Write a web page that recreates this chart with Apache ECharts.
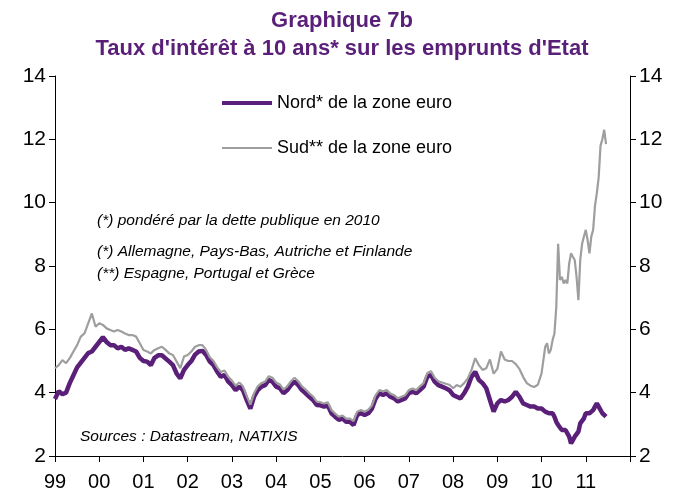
<!DOCTYPE html>
<html lang="fr">
<head>
    <meta charset="utf-8">
    <title>Graphique 7b</title>
    <script src="https://cdn.jsdelivr.net/npm/echarts@6/dist/echarts.min.js"></script>
    <style type="text/css">
        html, body { margin: 0; padding: 0; background: #fff; }
        #chart { width: 684px; height: 497px; }
    </style>
</head>
<body>
    <div id="chart"></div>
    <script>
        // monthly values, Jan 1999 .. Dec 2009
        var nordMonthly = [
            3.8, 4.05, 3.95, 4.0, 4.3, 4.55, 4.8, 4.95, 5.1, 5.25, 5.3, 5.45,      // 1999
            5.6, 5.75, 5.6, 5.5, 5.5, 5.4, 5.45, 5.35, 5.4, 5.35, 5.3, 5.1,       // 2000
            5.0, 4.98, 4.87, 5.1, 5.18, 5.18, 5.08, 4.98, 4.87, 4.6, 4.45, 4.72,  // 2001
            4.87, 5.0, 5.2, 5.3, 5.32, 5.19, 4.98, 4.87, 4.66, 4.5, 4.56, 4.35,   // 2002
            4.24, 4.08, 4.19, 4.08, 3.77, 3.5, 3.87, 4.08, 4.19, 4.24, 4.4, 4.35, // 2003
            4.19, 4.14, 3.98, 4.08, 4.24, 4.35, 4.24, 4.08, 3.98, 3.87, 3.77, 3.61, // 2004
            3.6, 3.56, 3.6, 3.35, 3.24, 3.14, 3.19, 3.08, 3.08, 2.98, 3.3, 3.35,  // 2005
            3.3, 3.35, 3.5, 3.82, 3.98, 3.93, 3.98, 3.87, 3.82, 3.72, 3.77, 3.82, // 2006
            3.98, 4.03, 3.98, 4.08, 4.19, 4.5, 4.56, 4.35, 4.24, 4.19, 4.14, 4.08, // 2007
            3.93, 3.87, 3.82, 3.98, 4.19, 4.5, 4.66, 4.4, 4.3, 4.14, 3.77, 3.4,   // 2008
            3.66, 3.77, 3.72, 3.77, 3.87, 4.03, 3.87, 3.66, 3.61, 3.56, 3.56, 3.5  // 2009
        ];
        var sudMonthly = [
            4.77, 4.87, 5.03, 4.93, 5.09, 5.3, 5.5, 5.77, 5.87, 6.19, 6.5, 6.08,  // 1999
            6.19, 6.14, 6.03, 5.98, 5.93, 5.98, 5.93, 5.87, 5.82, 5.82, 5.77, 5.56, // 2000
            5.35, 5.3, 5.24, 5.35, 5.4, 5.45, 5.35, 5.24, 5.19, 4.98, 4.77, 5.14, // 2001
            5.19, 5.3, 5.45, 5.5, 5.5, 5.35, 5.12, 5.0, 4.8, 4.65, 4.7, 4.5,      // 2002
            4.38, 4.22, 4.32, 4.2, 3.9, 3.62, 3.98, 4.2, 4.3, 4.35, 4.52, 4.47,   // 2003
            4.32, 4.26, 4.1, 4.2, 4.36, 4.47, 4.36, 4.2, 4.1, 3.98, 3.88, 3.72,   // 2004
            3.7, 3.66, 3.7, 3.45, 3.34, 3.24, 3.28, 3.18, 3.18, 3.1, 3.4, 3.45,   // 2005
            3.4, 3.46, 3.6, 3.92, 4.08, 4.04, 4.08, 3.97, 3.92, 3.82, 3.87, 3.92, // 2006
            4.08, 4.13, 4.08, 4.2, 4.3, 4.62, 4.68, 4.47, 4.36, 4.32, 4.28, 4.25, // 2007
            4.14, 4.24, 4.19, 4.3, 4.45, 4.72, 5.09, 4.87, 4.72, 4.77, 5.05, 4.6, // 2008
            4.75, 5.3, 5.05, 5.0, 5.0, 4.9, 4.75, 4.5, 4.3, 4.22, 4.18, 4.25      // 2009
        ];
        // twice a month, Jan 2010 .. mid-June 2011
        var nordLate = [
            3.5, 3.45, 3.4, 3.45, 3.35, 3.4, 3.35, 3.24, 3.08, 2.98, 2.93, 2.82,
            2.87, 2.82, 2.77, 2.61, 2.4, 2.5, 2.61, 2.66, 2.77, 3.03, 3.08, 3.19,
            3.35, 3.29, 3.35, 3.4, 3.45, 3.56, 3.66, 3.56, 3.5, 3.35, 3.29, 3.24
        ];
        var sudLate = [
            4.61, 5.03, 5.45, 5.56, 5.24, 5.35, 5.66, 5.87, 6.71, 8.7, 7.56, 7.66,
            7.45, 7.56, 7.45, 8.08, 8.4, 8.29, 8.19, 7.66, 6.92, 8.19, 8.7, 8.93,
            9.14, 8.82, 8.4, 8.93, 9.14, 9.9, 10.3, 10.8, 11.8, 12.0, 12.3, 11.85
        ];
        var yTicks = [2, 4, 6, 8, 10, 12, 14];
        var yearLabels = ['99', '00', '01', '02', '03', '04', '05', '06', '07', '08', '09', '10', '11'];
        var nordName = 'Nord* de la zone euro';
        var sudName = 'Sud** de la zone euro';

        // pair values with their date as decimal years
        function pairs(monthly, late) {
            var out = [];
            for (var i = 0; i < monthly.length; i++) out.push([1999 + i / 12, monthly[i]]);
            for (var j = 0; j < late.length; j++) out.push([2010 + j / 24, late[j]]);
            return out;
        }

        var purple = '#5a1f78';
        var font = 'Liberation Sans, Arial, sans-serif';
        var noteFont = 'italic 15.5px ' + font;

        var yAxisBase = {
            type: 'value',
            min: yTicks[0],
            max: yTicks[yTicks.length - 1],
            interval: 2,
            axisLine: { show: true, lineStyle: { color: '#000', width: 1 } },
            axisTick: { show: true, length: 6, lineStyle: { color: '#000' } },
            splitLine: { show: false },
            axisLabel: { color: '#000', fontSize: 21, fontFamily: font, margin: 9 }
        };

        var chart = echarts.init(document.getElementById('chart'));
        var option = {
            backgroundColor: '#fff',
            animation: false,
            title: [{
                text: 'Graphique 7b',
                left: 'center',
                top: 5,
                textStyle: { color: purple, fontSize: 22, fontWeight: 'bold', fontFamily: font }
            }, {
                text: "Taux d'intérêt à 10 ans* sur les emprunts d'Etat",
                left: 'center',
                top: 33,
                textStyle: { color: purple, fontSize: 22, fontWeight: 'bold', fontFamily: font }
            }],
            legend: {
                orient: 'vertical',
                left: 222,
                top: 94,
                padding: 0,
                itemWidth: 50,
                itemHeight: 14,
                itemGap: 27,
                textStyle: { color: '#000', fontSize: 18, fontFamily: font },
                data: [
                    { name: nordName, icon: 'path://M0,0L50,0L50,4L0,4Z', itemStyle: { color: purple } },
                    { name: sudName, icon: 'path://M0,0L50,0L50,2L0,2Z', itemStyle: { color: '#9e9e9e' } }
                ]
            },
            grid: { left: 55, right: 54, top: 76, bottom: 41 },
            xAxis: {
                type: 'value',
                min: 1999,
                max: 2012,
                interval: 1,
                axisLine: { show: true, onZero: false, lineStyle: { color: '#000' } },
                axisTick: { show: true, length: 6, lineStyle: { color: '#000' } },
                splitLine: { show: false },
                axisLabel: {
                    color: '#000', fontSize: 20, fontFamily: font, margin: 16,
                    formatter: function (v) {
                        var k = Math.round(v) - 1999;
                        return yearLabels[k] || '';
                    }
                }
            },
            yAxis: [
                Object.assign({}, yAxisBase, { position: 'left' }),
                Object.assign({}, yAxisBase, { position: 'right' })
            ],
            graphic: [
                { type: 'text', left: 97, top: 213, style: { text: '(*) pondéré par la dette publique en 2010', fill: '#000', font: noteFont } },
                { type: 'text', left: 97, top: 244, style: { text: '(*) Allemagne, Pays-Bas, Autriche et Finlande', fill: '#000', font: noteFont } },
                { type: 'text', left: 97, top: 266, style: { text: '(**) Espagne, Portugal et Grèce', fill: '#000', font: noteFont } },
                { type: 'text', left: 80, top: 429, style: { text: 'Sources : Datastream, NATIXIS', fill: '#000', font: noteFont } }
            ],
            series: [{
                name: nordName,
                type: 'line',
                data: pairs(nordMonthly, nordLate),
                showSymbol: false,
                lineStyle: { color: purple, width: 4.5 },
                itemStyle: { color: purple }
            }, {
                name: sudName,
                type: 'line',
                data: pairs(sudMonthly, sudLate),
                showSymbol: false,
                lineStyle: { color: '#9e9e9e', width: 2.2 },
                itemStyle: { color: '#9e9e9e' }
            }]
        };
        chart.setOption(option);
    </script>
</body>
</html>
